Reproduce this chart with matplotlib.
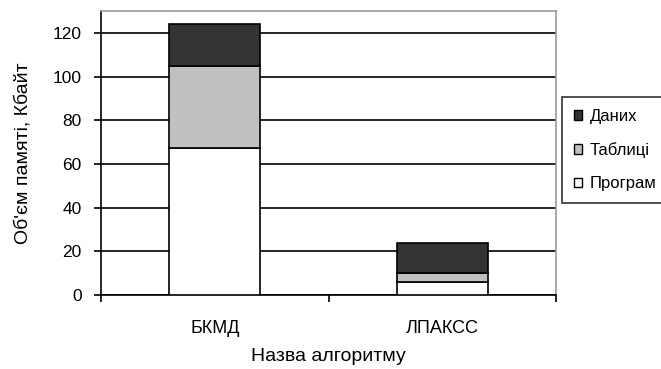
import matplotlib.pyplot as plt
from matplotlib.patches import Patch

plt.rcParams['font.family'] = ['Liberation Sans', 'DejaVu Sans']

algorithms = ["БКМД", "ЛПАКСС"]
programs = [67.5, 6]
tables = [37.5, 4]
data = [19, 13.7]
series_labels = ["Програм", "Таблиці", "Даних"]
colors = ["white", "#c0c0c0", "#333333"]

fig = plt.figure(figsize=(6.61, 3.69), dpi=100)
ax = fig.add_axes([101 / 661, 1 - 295 / 369, 455 / 661, 284 / 369])

x = range(len(algorithms))
bottom2 = [p + t for p, t in zip(programs, tables)]
ax.bar(x, programs, width=0.4, color=colors[0], edgecolor="black", linewidth=1.2, zorder=3)
ax.bar(x, tables, width=0.4, bottom=programs, color=colors[1], edgecolor="black", linewidth=1.2, zorder=3)
ax.bar(x, data, width=0.4, bottom=bottom2, color=colors[2], edgecolor="black", linewidth=1.2, zorder=3)

ax.set_xlim(-0.5, 1.5)
ax.set_ylim(0, 130)
ax.set_yticks(range(0, 121, 20))
ax.yaxis.grid(True, color="black", linewidth=1.2, zorder=0)
ax.set_axisbelow(True)

# category labels between boundary ticks
ax.set_xticks([-0.5, 0.5, 1.5])
ax.set_xticklabels([])
ax.set_xticks(list(x), minor=True)
ax.set_xticklabels(algorithms, minor=True, fontsize=13)
ax.tick_params(axis="x", which="minor", length=0, pad=18)
ax.tick_params(axis="x", which="major", length=5, width=1.2, direction="out")
ax.tick_params(axis="y", length=5, width=1.2, direction="out", labelsize=12.5, pad=9)

for side in ["left", "bottom"]:
    ax.spines[side].set_color("black")
    ax.spines[side].set_linewidth(1.2)
for side in ["top", "right"]:
    ax.spines[side].set_color("#999999")
    ax.spines[side].set_linewidth(1.2)

ax.set_ylabel("Об'єм памяті, Кбайт", fontsize=14, labelpad=15)
ax.set_xlabel("Назва алгоритму", fontsize=14, labelpad=8)

handles = [Patch(facecolor=c, edgecolor="black", linewidth=1) for c in colors]
leg = fig.legend(handles[::-1], series_labels[::-1], loc="upper left",
                 bbox_to_anchor=(562 / 661, 1 - 97 / 369), fontsize=12,
                 frameon=True, fancybox=False, edgecolor="black",
                 handlelength=0.5, handleheight=0.5, handletextpad=0.45,
                 labelspacing=1.1, borderpad=0.7, borderaxespad=0)
leg.get_frame().set_linewidth(1.2)

fig.savefig("out.png", dpi=100)
